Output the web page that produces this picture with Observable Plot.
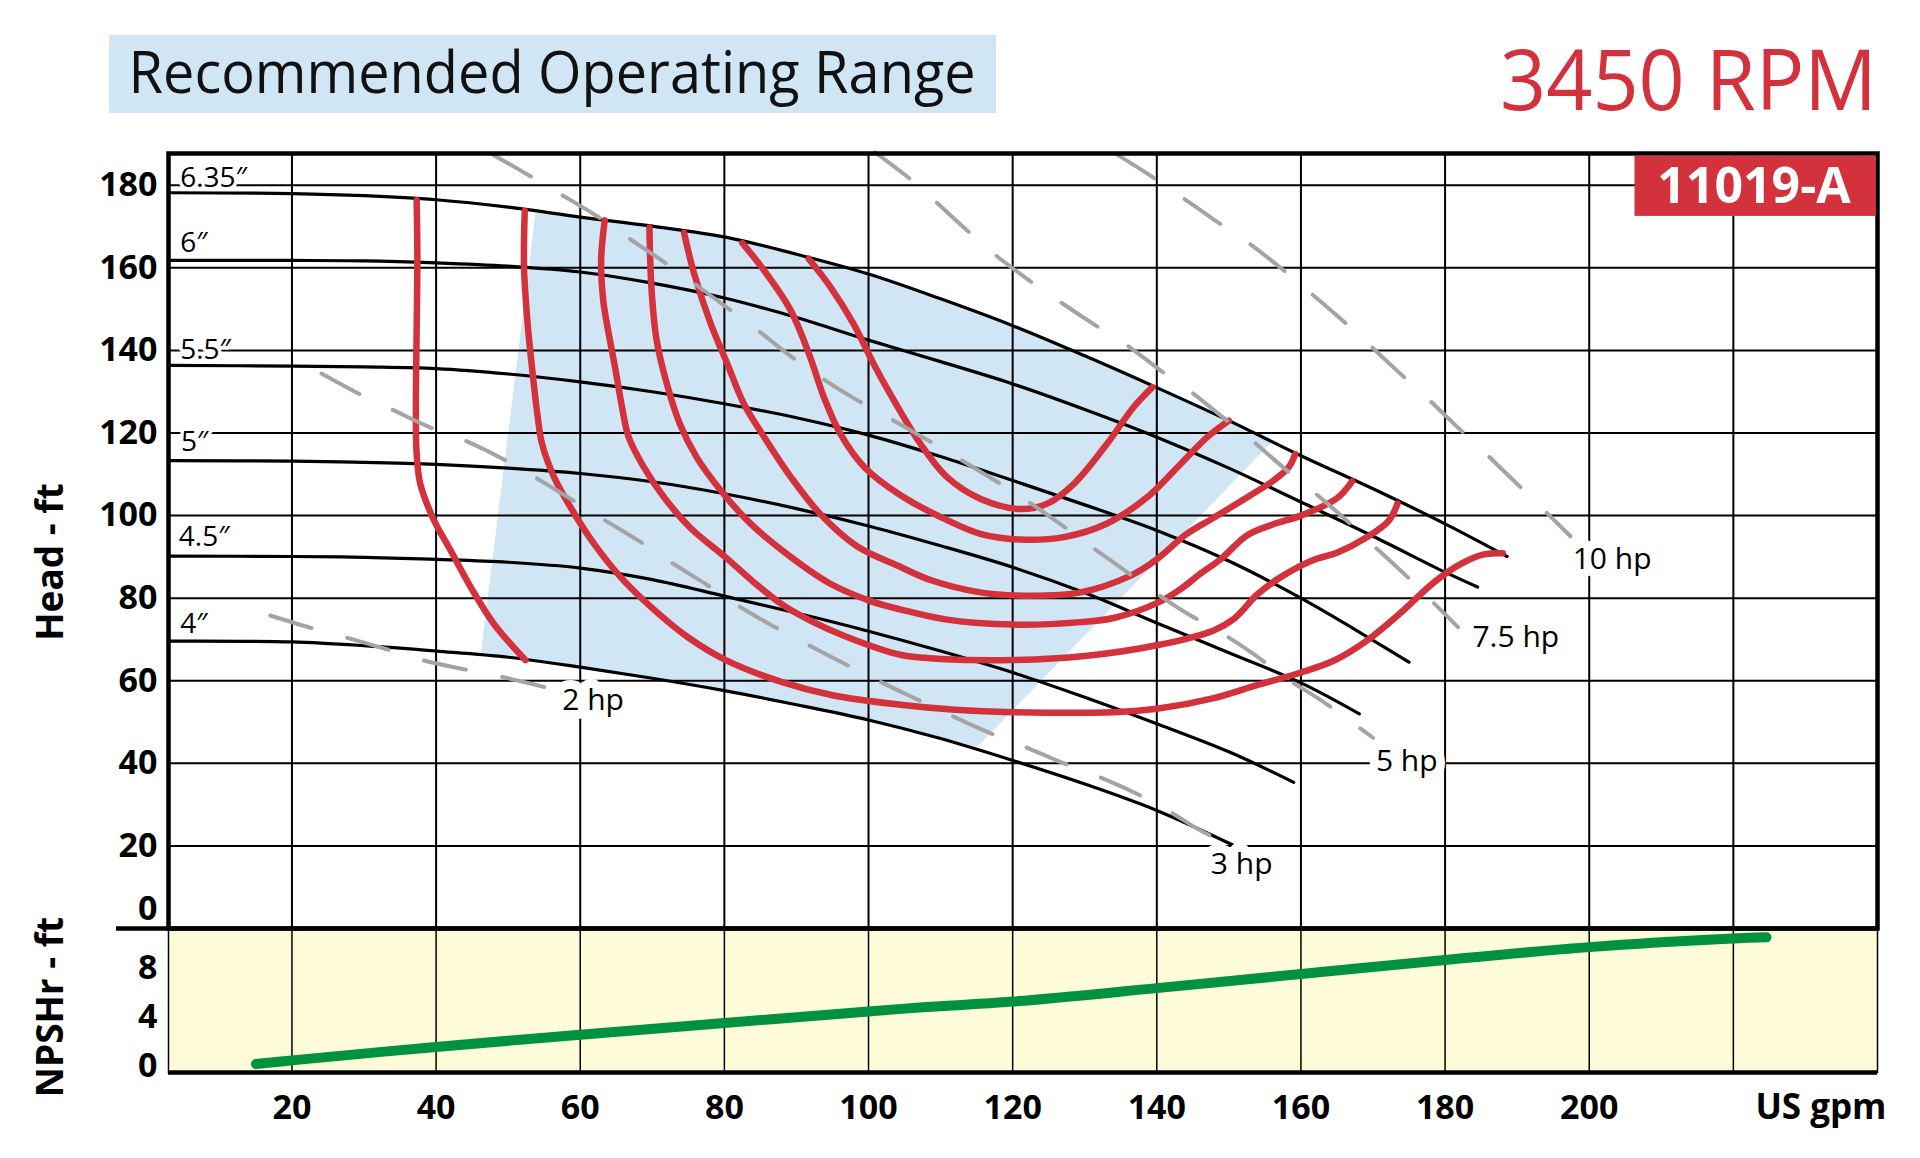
<!DOCTYPE html>
<html>
<head>
<meta charset="utf-8">
<script src="https://cdn.jsdelivr.net/npm/d3@7"></script>
<script src="https://cdn.jsdelivr.net/npm/@observablehq/plot@0.6"></script>
<style>
  html, body { margin: 0; padding: 0; background: #fff; overflow: hidden; }
  #wrap { position: relative; width: 1920px; height: 1158px; overflow: hidden; font-family: "Open Sans", sans-serif; background: #fff; }
  #wrap > svg { position: absolute; left: 0; }
</style>
</head>
<body>
<div id="wrap"></div>
<script>
// ---------- tick values ----------
const gpmTicks = [20, 40, 60, 80, 100, 120, 140, 160, 180, 200];
const gpmGrid = [20, 40, 60, 80, 100, 120, 140, 160, 180, 200, 220];
const headTicks = [20, 40, 60, 80, 100, 120, 140, 160, 180];
const npshTicks = [0, 4, 8];

// ---------- impeller head curves (gpm, ft) ----------
const head635 = [[3,178.2],[20,178],[30,177.5],[40,176.5],[50,174.7],[60,172.3],[70,170.1],[80,167.5],[90,163.3],[100,158.5],[110,152.5],[120,146],[130,138.7],[140,131],[150,123],[160,114.5],[170,106.5],[180,98],[188.6,90.1]];
const head6   = [[3,161.8],[20,161.8],[30,161.7],[40,161.2],[50,160.4],[60,159],[70,156.3],[80,152.7],[90,148],[100,142.5],[110,137.3],[120,131.9],[130,125.7],[140,119],[150,111.5],[160,103.3],[170,95],[180,86.3],[184.5,82.7]];
const head55  = [[3,136.4],[20,136.2],[30,136],[40,135.6],[50,134.3],[60,132.4],[70,130],[80,127.1],[90,123.7],[100,119.5],[110,114.3],[120,108.5],[130,102.6],[140,96.4],[150,89],[160,80],[170,69.8],[175,64.5]];
const head5   = [[3,113.3],[20,113.2],[30,112.9],[40,112.4],[50,111.5],[60,110.2],[70,108.2],[80,105.3],[90,101.7],[100,97.5],[110,92.7],[120,87.5],[130,81.3],[140,74],[150,66.8],[160,59.5],[168.1,52]];
const head45  = [[3,90.2],[20,90.1],[30,89.9],[40,89.4],[50,88.7],[60,87.3],[70,84.5],[80,80.5],[90,76.4],[100,72],[110,67.2],[120,62],[130,56],[140,49.6],[150,42.8],[159,35.4]];
const head4   = [[3,69.6],[20,69.4],[30,68.5],[40,67.2],[50,65.7],[60,63.3],[70,60.6],[80,57.6],[90,54.2],[100,50.5],[110,46],[120,40.7],[130,35],[140,28.6],[150.7,20.1]];

const diaNames = ["6.35″", "6″", "5.5″", "5″", "4.5″", "4″"];
const diaLabelGpm = [4.5, 4.5, 4.5, 4.6, 4.3, 4.5];
const diaLabelHead = [181.8, 165.9, 140, 117.8, 94.8, 73.8];

// ---------- efficiency contours (red) ----------
const eff1 = [[37.3,176.4],[37.4,162.6],[37.3,145],[37.2,130],[37.2,122.3],[37.3,115],[37.8,107.7],[39.7,98.9],[42,91.6],[44.8,82.7],[48,73.8],[52.4,65]];
const eff2 = [[52.3,173.8],[52.2,160.2],[52.7,146.5],[53.4,134.4],[54.1,123.9],[54.7,117.4],[56.4,109.2],[58.9,101.3],[61.9,93.2],[65.6,85.1],[69.8,77.9],[74.9,70.6],[80.2,65],[87.8,59.8],[95,56.5],[104.4,54.2],[112,53],[120,52.4],[134,52.4],[140,53.2],[147.9,55.8],[154,59],[160,62],[164.6,64.9],[169.2,69.8],[173.8,76.4],[178.5,83.9],[182.2,88.3],[185.4,90.6],[188,90.9]];
const eff3 = [[63.4,171.5],[62.9,162],[63.2,152],[63.7,146.5],[64.9,135.2],[65.8,126.3],[66.7,119.1],[68.8,111.8],[71.6,104.5],[75.3,97],[80.1,90],[84,84],[88,78.5],[92,74.5],[97,70.6],[104.4,66.3],[110,65.3],[120,65],[130,66],[140,68.6],[147.9,72.2],[150.7,75],[154,81],[157.2,85.1],[161.8,89.3],[165,91],[169.2,94.8],[172.2,98.8],[173.4,102.9]];
const eff4 = [[69.6,169.7],[69.9,154.6],[70.6,142.5],[72,132],[73.8,122.3],[76.1,114.3],[79.5,106.1],[83.6,98.1],[89.2,90],[94.7,83.5],[100.3,79.3],[104.4,77.3],[110.9,74.8],[120.1,73.6],[129.4,74.2],[134,75.2],[140,78.8],[143.3,82.2],[146.1,86],[148.9,89.5],[152.5,95.2],[156,97.8],[160,100],[165,104.2],[167.1,108.3]];
const eff5 = [[74.4,168.5],[75.8,158.6],[78.1,146.5],[80.4,136.8],[82.7,127.1],[85.5,119.1],[89.2,109.4],[93.3,100.4],[98.4,92.6],[104.4,87.6],[108.6,84.4],[115.5,81.4],[122.5,80.6],[129.4,81.4],[136.3,85.4],[140,89.4],[144.1,95.5],[147.9,99.5],[152.5,104.4],[156.2,108.5],[158.3,111.7],[159.2,114.9]];
const eff6 = [[82.5,166],[85.5,159.4],[89.2,149.7],[91.9,138.4],[93.8,128.7],[96.1,119.8],[99.4,111.8],[104.4,105],[110.9,98.9],[115.5,95.6],[121.1,94.2],[127.1,94.8],[133.1,98.1],[138.7,104.5],[143.3,112.5],[147,119],[150,123]];
const eff7 = [[91.7,162.2],[94.7,155.4],[97.9,146.5],[100.7,136.8],[103,129.5],[107.2,117.4],[110.9,109.3],[115.5,104.1],[121.1,101.6],[124.8,102.9],[128.5,107.7],[133.1,117.4],[136.8,126.3],[139.4,131.1]];

// ---------- power lines (dashed gray) ----------
const power2 = [[17,75.8],[22.8,72.7],[27.7,70.4],[33.4,67.5],[38.3,64.9],[44.1,62.7],[49.2,60.9],[55,58.5]];
const power3 = [[24.1,134.4],[29.4,129.4],[34,125.6],[39.4,121.2],[44.1,118.1],[49.4,113.6],[53.8,109.2],[58.9,103.8],[63.2,99.1],[68.3,93.7],[72.5,88.8],[77.6,83.2],[81.8,78.3],[86.9,73.1],[91.4,68.9],[96.6,64.2],[101.7,59.7],[106.6,55.6],[111.2,51.8],[116.5,47.6],[121.3,44.3],[126.7,40.3],[131.5,37.1],[136.8,33],[141.5,28.6],[146.5,23.3],[150.7,20.2]];
const power5 = [[48,187.3],[52.3,183],[56.7,178.4],[61.9,173],[66.2,167.8],[70.9,162.3],[75.2,157],[79.8,151.1],[84.1,145.6],[88.6,139.4],[92.9,134],[97.7,128.7],[102.3,124.2],[107.5,119],[111.8,114.6],[116.8,109.3],[121.2,104.5],[126.1,98.6],[130.2,93.4],[135,87.4],[139.2,82.1],[144.1,76.4],[148.4,72.2],[153.5,66.4],[157.6,61],[162.5,55.6],[166.7,50.4],[170,46.2]];
const power75 = [[100.9,188],[105.3,182.2],[109.2,176.2],[113.6,169.2],[117.4,163.4],[122.2,157.1],[126.3,152.1],[131.3,146.3],[135.6,141.6],[140.4,135.3],[144.5,130.3],[149.3,123.6],[153.2,118.2],[157.6,111.6],[161.7,105.8],[166.1,99.2],[169.9,93],[174.2,86.1],[177.8,79.9],[181.8,73]];
const power10 = [[134.6,187.3],[138.8,182.7],[143.1,177.6],[147.9,171.7],[152.2,166.7],[156.9,160.4],[160.8,154.7],[165.3,148],[169.1,142],[173.4,135],[177.3,128.8],[181.5,121.8],[185.3,115.6],[189.5,108.5],[193.2,102.2],[197.4,95]];

const hpNames = ["2 hp", "3 hp", "5 hp", "7.5 hp", "10 hp"];
const hpLabelGpm = [57.5, 147.5, 170.4, 183.8, 197.7];
const hpLabelHead = [55.2, 15.5, 40.5, 70.4, 89.3];

// ---------- recommended operating range (shaded) ----------
const opRange = [[46.2,66.6],[53.8,173.5],[60,172.3],[70,170.1],[80,167.5],[90,163.3],[100,158.5],[110,152.5],[120,146],[130,138.7],[140,131],[150,123],[155.8,117.6],[115.1,44],[110,46],[100,50.5],[90,54.2],[80,57.6],[70,60.6],[60,63.3],[50,65.7]];

// ---------- NPSHr ----------
const npshr = [[15,0.2],[20,0.5],[40,1.6],[60,2.6],[80,3.55],[100,4.5],[108,4.85],[120,5.3],[140,6.4],[160,7.55],[180,8.7],[200,9.75],[220,10.45],[224.6,10.55]];

// ---------- scales & styling ----------
const xDomain = [2.87, 240];
const headDomain = [0, 187.7];
const npshDomain = [-0.49, 11.27];

const RED = "#d3313c", BLUE = "#d1e6f4", YELLOW = "#fefbd8", GREEN = "#00923f", GRAY = "#a4a4a4";
const FONT = "'Open Sans', sans-serif";
const TICK_FS = 34;
const X = d => d[0], Y = d => d[1];

const heads = [head635, head6, head55, head5, head45, head4];
const effs = [eff1, eff2, eff3, eff4, eff5, eff6, eff7];
const powers = [power2, power3, power5, power75, power10];

const headPlot = Plot.plot({
  width: 1920, height: 940,
  marginLeft: 168, marginRight: 43, marginTop: 153, marginBottom: 12,
  x: {domain: xDomain, axis: null},
  y: {domain: headDomain},
  style: {background: "transparent", fontFamily: FONT, overflow: "visible", color: "black"},
  marks: [
    Plot.line(opRange, {x: X, y: Y, fill: BLUE, stroke: "none", curve: "linear"}),
    Plot.gridX(gpmGrid, {stroke: "black", strokeOpacity: 1, strokeWidth: 2}),
    Plot.gridY(headTicks, {stroke: "black", strokeOpacity: 1, strokeWidth: 2}),
    ...heads.map(h => Plot.line(h, {x: X, y: Y, stroke: "black", strokeWidth: 3.2, curve: "catmull-rom"})),
    ...effs.map(e => Plot.line(e, {x: X, y: Y, stroke: RED, strokeWidth: 6.5, curve: "catmull-rom"})),
    ...powers.map(p => Plot.line(p, {x: X, y: Y, stroke: GRAY, strokeWidth: 4, strokeDasharray: "43 37", curve: "catmull-rom"})),
    Plot.text(diaNames, {x: (d, i) => diaLabelGpm[i], y: (d, i) => diaLabelHead[i], text: d => d, textAnchor: "start", lineAnchor: "middle", fontSize: 28, fill: "black", stroke: "white", strokeWidth: 7, fontFamily: FONT}),
    Plot.text(hpNames, {x: (d, i) => hpLabelGpm[i], y: (d, i) => hpLabelHead[i], text: d => d, textAnchor: "start", lineAnchor: "middle", fontSize: 30, fill: "black", stroke: "white", strokeWidth: 18, fontFamily: FONT}),
    Plot.frame({stroke: "black", strokeWidth: 4.5}),
    Plot.ruleY([0], {stroke: "black", strokeWidth: 4.5, insetLeft: -52}),
    Plot.axisY(headTicks, {tickSize: 0, tickPadding: 11, fontSize: TICK_FS, fontWeight: 700, label: null, fontFamily: FONT}),
    Plot.text([0], {y: d => d, text: d => String(d), frameAnchor: "left", dx: -11, dy: -19, textAnchor: "end", lineAnchor: "middle", fontSize: TICK_FS, fontWeight: 700, fontFamily: FONT})
  ]
});

const npshPlot = Plot.plot({
  width: 1920, height: 230,
  marginLeft: 168, marginRight: 43, marginTop: 0, marginBottom: 86,
  x: {domain: xDomain},
  y: {domain: npshDomain},
  style: {background: "transparent", fontFamily: FONT, overflow: "visible", color: "black"},
  marks: [
    Plot.frame({fill: YELLOW, stroke: "black", strokeWidth: 1.5}),
    Plot.gridX(gpmGrid, {stroke: "black", strokeOpacity: 1, strokeWidth: 1.5}),
    Plot.line(npshr, {x: X, y: Y, stroke: GREEN, strokeWidth: 10, curve: "catmull-rom"}),
    Plot.ruleY([npshDomain[0]], {stroke: "black", strokeWidth: 4.5}),
    Plot.axisY(npshTicks, {tickSize: 0, tickPadding: 11, fontSize: TICK_FS, fontWeight: 700, label: null, fontFamily: FONT}),
    Plot.axisX(gpmTicks, {tickSize: 0, tickPadding: 22, fontSize: TICK_FS, fontWeight: 700, label: null, fontFamily: FONT}),
    Plot.text(["US gpm"], {text: d => d, frameAnchor: "bottom-right", textAnchor: "end", lineAnchor: "top", dx: 9, dy: 22, fontSize: 35, fontWeight: 700, fontFamily: FONT})
  ]
});

const wrap = document.getElementById("wrap");
npshPlot.style.top = "928px"; npshPlot.style.zIndex = 1;
headPlot.style.top = "0px"; headPlot.style.zIndex = 2;
wrap.appendChild(npshPlot);
wrap.appendChild(headPlot);

// ---------- titles, badge, axis titles ----------
const ov = d3.select(wrap).append("svg")
  .attr("width", 1920).attr("height", 1158)
  .style("top", "0px").style("z-index", 3).style("pointer-events", "none")
  .attr("font-family", FONT);

ov.append("rect").attr("x", 109).attr("y", 35).attr("width", 887).attr("height", 78).attr("fill", BLUE);
ov.append("text").attr("x", 128.6).attr("y", 93.3).attr("font-size", 58).attr("fill", "#111")
  .attr("textLength", 847).attr("lengthAdjust", "spacingAndGlyphs").text("Recommended Operating Range");
ov.append("text").attr("x", 1500).attr("y", 110).attr("font-size", 84).attr("fill", RED)
  .attr("textLength", 377).attr("lengthAdjust", "spacingAndGlyphs").text("3450 RPM");

ov.append("rect").attr("x", 1634.5).attr("y", 155.6).attr("width", 241.4).attr("height", 60.3).attr("fill", RED);
ov.append("text").attr("x", 1754).attr("y", 203.4).attr("font-size", 50).attr("font-weight", 700)
  .attr("fill", "white").attr("text-anchor", "middle").text("11019-A");

ov.append("text").attr("transform", "translate(63.3,562) rotate(-90)").attr("font-size", 37).attr("font-weight", 700)
  .attr("text-anchor", "middle").attr("fill", "black").text("Head - ft");
ov.append("text").attr("transform", "translate(63.3,1007) rotate(-90)").attr("font-size", 37).attr("font-weight", 700)
  .attr("text-anchor", "middle").attr("fill", "black").text("NPSHr - ft");
</script>
</body>
</html>
